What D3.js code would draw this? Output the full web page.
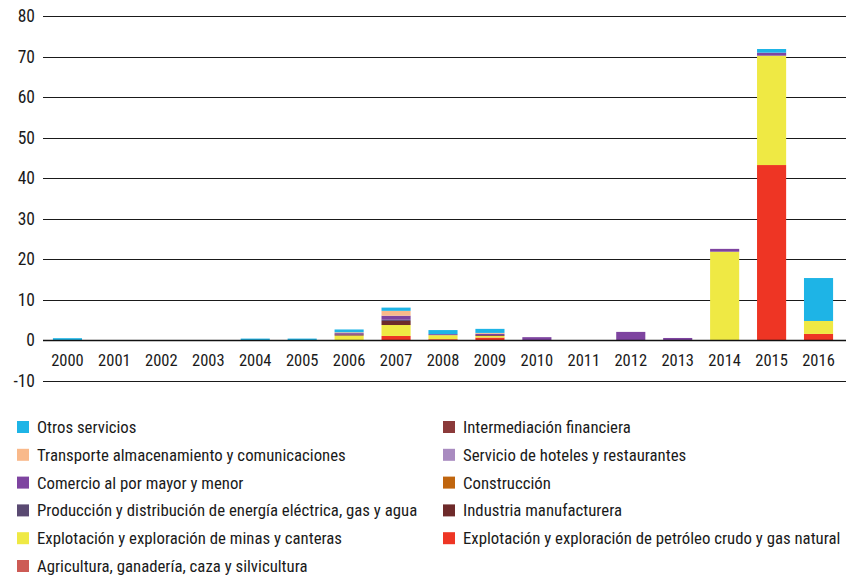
<!DOCTYPE html>
<html>
<head>
<meta charset="utf-8">
<script src="https://cdn.jsdelivr.net/npm/d3@7"></script>
<style>
  body { margin: 0; background: #fff; }
  svg text { font-family: "Liberation Sans Narrow", "Roboto Condensed", "DejaVu Sans Condensed", sans-serif; fill: #1a1a1a; }
</style>
</head>
<body>
<script>
var years = ["2000","2001","2002","2003","2004","2005","2006","2007","2008","2009","2010","2011","2012","2013","2014","2015","2016"];
var yTicks = [-10, 0, 10, 20, 30, 40, 50, 60, 70, 80];

// stack order, bottom to top
var sectors = [
  "Agricultura, ganadería, caza y silvicultura",
  "Explotación y exploración de petróleo crudo y gas natural",
  "Explotación y exploración de minas y canteras",
  "Industria manufacturera",
  "Producción y distribución de energía eléctrica, gas y agua",
  "Construcción",
  "Comercio al por mayor y menor",
  "Servicio de hoteles y restaurantes",
  "Transporte almacenamiento y comunicaciones",
  "Intermediación financiera",
  "Otros servicios"
];
var colors = ["#cd5b55", "#ee3524", "#efe944", "#6e2a2a", "#5a4a72", "#c0650e", "#7e44a0", "#a98bc0", "#f9b98a", "#8b3a3a", "#1eb4e6"];

var agricultura   = [0,0,0,0,0,0,0,0,0,0,0,0,0,0,0,0,0];
var petroleo      = [0,0,0,0,0,0,0,1.0,0.2,0.6,0,0,0,0,0,43.2,1.5];
var minas         = [0,0,0,0,0,0,1.1,2.7,1.0,0.4,0,0,0,0,21.8,27.0,3.2];
var industria     = [0,0,0,0,0,0,0.3,1.0,0,0.2,0,0,0,0,0,0,0];
var energia       = [0,0,0,0,0,0,0,0.3,0,0,0,0,0,0,0,0,0];
var construccion  = [0,0,0,0,0,0,0,0,0,0,0,0,0,0,0,0,0];
var comercio      = [0,0,0,0,0,0,0.3,1.0,0.25,0.35,0.7,0,2.0,0.5,0.7,0.75,0];
var hoteles       = [0,0,0,0,0,0,0,0,0,0,0,0,0,0,0,0,0];
var transporte    = [0,0,0,0,0,0,0.2,1.2,0,0.2,0,0,0,0,0,0,0];
var intermediacion= [0,0,0,0,0,0,0,0,0,0,0,0,0,0,0,0,0];
var otros         = [0.45,0,0,0,0.35,0.35,0.7,0.8,1.0,1.0,0,0,0,0,0,0.9,10.6];

var series = [agricultura, petroleo, minas, industria, energia, construccion, comercio, hoteles, transporte, intermediacion, otros];

// legend rows, as they appear (two columns)
var legendLeft = ["Otros servicios", "Transporte almacenamiento y comunicaciones", "Comercio al por mayor y menor",
  "Producción y distribución de energía eléctrica, gas y agua", "Explotación y exploración de minas y canteras",
  "Agricultura, ganadería, caza y silvicultura"];
var legendRight = ["Intermediación financiera", "Servicio de hoteles y restaurantes", "Construcción",
  "Industria manufacturera", "Explotación y exploración de petróleo crudo y gas natural"];

var width = 846, height = 578;

var svg = d3.select("body").append("svg")
  .attr("width", width)
  .attr("height", height);

var x = d3.scaleBand().domain(years).range([44, 842]).paddingInner(0.38).paddingOuter(0.19);
var y = d3.scaleLinear().domain([-10, 80]).range([380.5, 16]);

var rows = years.map(function (yr, i) {
  var r = { year: yr };
  sectors.forEach(function (s, k) { r[s] = series[k][i]; });
  return r;
});
var stacked = d3.stack().keys(sectors)(rows);

// grid lines
svg.append("g")
  .selectAll("line")
  .data(yTicks)
  .join("line")
  .attr("x1", 43).attr("x2", width)
  .attr("y1", function (d) { return Math.round(y(d)) + 0.5; })
  .attr("y2", function (d) { return Math.round(y(d)) + 0.5; })
  .attr("stroke", function (d) { return d === 0 ? "#9a9a9a" : "#1a1a1a"; })
  .attr("stroke-width", 1.2);

// y labels
svg.append("g")
  .selectAll("text")
  .data(yTicks)
  .join("text")
  .attr("x", 35)
  .attr("y", function (d) { return y(d); })
  .attr("dy", "0.36em")
  .attr("text-anchor", "end")
  .attr("font-size", 17.5)
  .text(function (d) { return d; });

// bars
svg.append("g")
  .selectAll("g")
  .data(stacked)
  .join("g")
  .attr("fill", function (d, i) { return colors[i]; })
  .selectAll("rect")
  .data(function (d) { return d; })
  .join("rect")
  .attr("x", function (d) { return x(d.data.year); })
  .attr("width", x.bandwidth())
  .attr("y", function (d) { return y(d[1]); })
  .attr("height", function (d) { return Math.max(0, y(d[0]) - y(d[1])); });

// zero line on top of bars
svg.append("line")
  .attr("x1", 43).attr("x2", width)
  .attr("y1", Math.round(y(0)) + 0.5).attr("y2", Math.round(y(0)) + 0.5)
  .attr("stroke", "#111").attr("stroke-width", 1.5);

// year labels
svg.append("g")
  .selectAll("text")
  .data(years)
  .join("text")
  .attr("x", function (d) { return x(d) + x.bandwidth() / 2; })
  .attr("y", 360)
  .attr("dy", "0.36em")
  .attr("text-anchor", "middle")
  .attr("font-size", 16.5)
  .text(function (d) { return d; });

// legend
function legendCol(items, x0) {
  var g = svg.append("g");
  var item = g.selectAll("g")
    .data(items)
    .join("g")
    .attr("transform", function (d, i) { return "translate(" + x0 + "," + (427 + i * 27.8) + ")"; });
  item.append("rect")
    .attr("x", 0).attr("y", -6)
    .attr("width", 12).attr("height", 12)
    .attr("fill", function (d) { return colors[sectors.indexOf(d)]; });
  item.append("text")
    .attr("x", 20)
    .attr("dy", "0.36em")
    .attr("font-size", 16.8)
    .text(function (d) { return d; });
}
legendCol(legendLeft, 17);
legendCol(legendRight, 443);
</script>
</body>
</html>
